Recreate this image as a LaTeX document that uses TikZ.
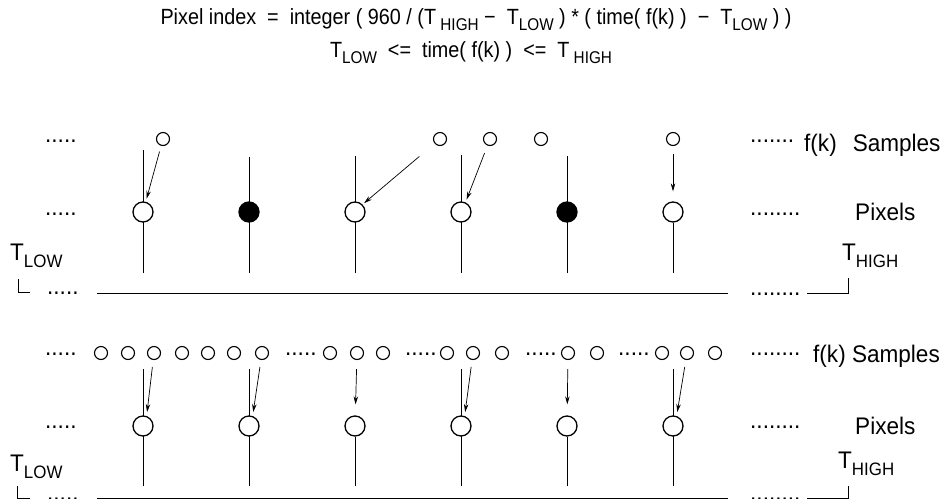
\documentclass[tikz,border=0pt]{standalone}
\usepackage{fontspec}
\setmainfont{Liberation Sans}
\usetikzlibrary{arrows.meta}
\newcommand{\lsub}[1]{\raisebox{-7pt}{\fontsize{18}{18}\selectfont #1}}
\newcommand{\tsub}[1]{\raisebox{-6pt}{\fontsize{17}{17}\selectfont #1}}
\newcommand{\lbl}[1]{\scalebox{0.94}[1]{#1}}
\newcommand{\ttl}[1]{\scalebox{0.9}[1]{#1}}
\begin{document}
\begin{tikzpicture}[x=1pt,y=-1pt,
  txt/.style={font=\fontsize{24}{24}\selectfont, inner sep=0pt, anchor=base west},
  ttxt/.style={font=\fontsize{22}{22}\selectfont, inner sep=0pt, anchor=base},
  dots/.style={txt},
  pix/.style={circle, draw, line width=1.3pt, minimum size=20pt, inner sep=0pt, fill=white},
  pixf/.style={pix, fill=black},
  smp/.style={circle, draw, line width=1.1pt, minimum size=13pt, inner sep=0pt, fill=white},
  vline/.style={line width=0.9pt},
  arr/.style={line width=0.7pt, -{Stealth[length=8pt,width=4.5pt]}},
  base/.style={line width=0.9pt},
]
\useasboundingbox (0,0) rectangle (950,498);
\fill[white] (0,0) rectangle (950,498);

% title
\node[ttxt] (title1) at (476,24) {\ttl{Pixel index \ = \ integer ( 960 / (T\tsub{ HIGH} − \ T\tsub{LOW} ) * ( time( f(k) ) \ − \ T\tsub{LOW} ) )}};
\node[ttxt] (title2) at (471,57) {\ttl{T\tsub{LOW} \ <= \ time( f(k) ) \ <= \ T\tsub{ HIGH}}};

% ================= top panel =================
\coordinate (a1t) at (143,150); \coordinate (a1b) at (143,273);
\coordinate (a2t) at (249,157); \coordinate (a2b) at (249,273);
\coordinate (a3t) at (355,156); \coordinate (a3b) at (355,273);
\coordinate (a4t) at (461,155); \coordinate (a4b) at (461,273);
\coordinate (a5t) at (567,156); \coordinate (a5b) at (567,273);
\coordinate (a6b) at (673,273);
\foreach \i in {1,...,5} { \draw[vline] (a\i t) -- (a\i b); }

\node[pix]  (p1) at (143,212) {};
\node[pixf] (p2) at (249,212) {};
\node[pix]  (p3) at (355,212) {};
\node[pix]  (p4) at (461,212) {};
\node[pixf] (p5) at (567,212) {};
\node[pix]  (p6) at (673,212) {};
\draw[vline] (p6.south) -- (a6b);

\node[smp] (s1) at (163,139) {};
\node[smp] (s2) at (440,139) {};
\node[smp] (s3) at (490,139) {};
\node[smp] (s4) at (541,139) {};
\node[smp] (s5) at (673,139) {};

\draw[arr, shorten <=6pt, shorten >=3pt] (s1) -- (p1.75);
\draw[arr, shorten <=20pt, shorten >=2pt] (s2) -- (p3.45);
\draw[arr, shorten <=8pt, shorten >=3pt] (s3) -- (p4.65);
\draw[arr, shorten <=8pt, shorten >=10pt] (s5) -- (p6);

\node[dots] (tl1) at (45,142) {\lbl{.....}};
\node[dots] (tl2) at (45,215) {\lbl{.....}};
\node[dots] (tr1) at (750,142) {\lbl{.......}};
\node[txt]  (tsam) at (804,151) {\lbl{f(k)\hspace{17pt}Samples}};
\node[dots] (tr2) at (750,215) {\lbl{........}};
\node[txt]  (tpix) at (855,220) {\lbl{Pixels}};
\node[txt]  (tlow) at (10,260) {\lbl{T\lsub{LOW}}};
\node[txt]  (thigh) at (842,260) {\lbl{T\lsub{HIGH}}};

% baseline top
\coordinate (tb1) at (18,279); \coordinate (tb2) at (18,292); \coordinate (tb3) at (30,292);
\draw[base] (tb1) -- (tb2) -- (tb3);
\node[dots] (tbd1) at (47,294) {\lbl{.....}};
\coordinate (tl0) at (97,293); \coordinate (tl9) at (728,293);
\draw[base] (tl0) -- (tl9);
\node[dots] (tbd2) at (750,295) {\lbl{........}};
\coordinate (tr0) at (807,293); \coordinate (tr8) at (848,293); \coordinate (tr9) at (848,278);
\draw[base] (tr0) -- (tr8) -- (tr9);

% ================= bottom panel =================
\coordinate (b1t) at (143,369); \coordinate (b1b) at (143,486);
\coordinate (b2t) at (249,369); \coordinate (b2b) at (249,486);
\coordinate (b3b) at (355,486);
\coordinate (b4t) at (461,369); \coordinate (b4b) at (461,486);
\coordinate (b5b) at (567,486);
\coordinate (b6t) at (673,369); \coordinate (b6b) at (673,486);
\foreach \i in {1,2,4,6} { \draw[vline] (b\i t) -- (b\i b); }

\node[pix] (q1) at (143,426) {};
\node[pix] (q2) at (249,426) {};
\node[pix] (q3) at (355,426) {};
\node[pix] (q4) at (461,426) {};
\node[pix] (q5) at (567,426) {};
\node[pix] (q6) at (673,426) {};
\draw[vline] (q3.south) -- (b3b);
\draw[vline] (q5.south) -- (b5b);

\foreach \n/\x in {1/101,2/128,3/154,4/182,5/208,6/234,7/262,
                   8/330,9/357,10/383,11/447,12/473,13/502,
                   14/568,15/597,16/662,17/687,18/715}
  { \node[smp] (r\n) at (\x,353) {}; }

\node[dots] (bd1) at (285,355) {\lbl{.....}};
\node[dots] (bd2) at (405,355) {\lbl{.....}};
\node[dots] (bd3) at (525,355) {\lbl{.....}};
\node[dots] (bd4) at (618,355) {\lbl{.....}};

\draw[arr, shorten <=7pt, shorten >=4pt] (r3) -- (q1.70);
\draw[arr, shorten <=7pt, shorten >=4pt] (r7) -- (q2.70);
\draw[arr, shorten <=9pt, shorten >=11pt] (r9) -- (q3);
\draw[arr, shorten <=7pt, shorten >=4pt] (r12) -- (q4.70);
\draw[arr, shorten <=9pt, shorten >=11pt] (r14) -- (q5);
\draw[arr, shorten <=7pt, shorten >=4pt] (r17) -- (q6.70);

\node[dots] (bl1) at (45,355) {\lbl{.....}};
\node[dots] (bl2) at (45,428) {\lbl{.....}};
\node[dots] (br1) at (750,355) {\lbl{........}};
\node[txt]  (bsam) at (813,362) {\lbl{f(k) Samples}};
\node[dots] (br2) at (750,428) {\lbl{........}};
\node[txt]  (bpix) at (855,434) {\lbl{Pixels}};
\node[txt]  (blow) at (10,471) {\lbl{T\lsub{LOW}}};
\node[txt]  (bhigh) at (838,468) {\lbl{T\lsub{HIGH}}};

% baseline bottom (clipped at edge, as in the reference)
\coordinate (bb1) at (17,486); \coordinate (bb2) at (17,498); \coordinate (bb3) at (30,498);
\draw[base] (bb1) -- (bb2) -- (bb3);
\node[dots] (bbd1) at (47,500) {\lbl{.....}};
\coordinate (bl0) at (97,498); \coordinate (bl9) at (728,498);
\draw[base] (bl0) -- (bl9);
\node[dots] (bbd2) at (750,500) {\lbl{........}};
\coordinate (br0) at (807,498); \coordinate (br8) at (848,498); \coordinate (br9) at (848,486);
\draw[base] (br0) -- (br8) -- (br9);
\end{tikzpicture}
\end{document}
